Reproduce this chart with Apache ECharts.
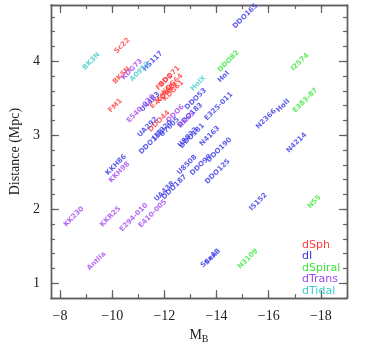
<!DOCTYPE html>
<html>
<head>
<meta charset="utf-8">
<script src="https://cdn.jsdelivr.net/npm/echarts@6/dist/echarts.min.js"></script>
<style>
  html, body { margin: 0; padding: 0; background: #fff; }
  #chart { width: 383px; height: 349px; }
</style>
</head>
<body>
<div id="chart"></div>
<script>
// Dwarf galaxies: absolute blue magnitude vs. distance, labelled by name and coloured by type
const typeNames = ['dSph', 'dI', 'dSpiral', 'dTrans', 'dTidal'];
const typeColors = ['#ff3a3a', '#3535e8', '#3be63b', '#a245f2', '#3ccccc'];

const dSphNames = ['Sc22', 'BK5N', 'FM1', 'DDO71', 'F8D1', 'KDG64', 'KDG63', 'KDG61', 'E269-66', 'DDO44'];
const dSphMB    = [-10.38, -10.36, -10.12, -12.19, -12.0, -12.31, -12.1, -12.34, -11.93, -11.8];
const dSphDist  = [4.21, 3.81, 3.40, 3.79, 3.72, 3.69, 3.57, 3.60, 3.53, 3.19];

const dINames = ['HS117', 'DDO165', 'HoI', 'DDO53', 'E325-011', 'N2366', 'HoII', 'N4214',
  'UA292', 'DDO113', 'U8320', 'U7605', 'DDO183', 'DDO181', 'U8833', 'N4163', 'DDO190',
  'U8508', 'DDO99', 'DDO125', 'DDO187', 'UA438', 'I5152', 'SexA', 'SexB', 'KKH86', 'U4483'];
const dIMB   = [-11.55, -15.1, -14.27, -13.2, -14.08, -15.9, -16.55, -17.07,
  -11.36, -11.51, -11.93, -12.2, -12.99, -13.06, -12.9, -13.74, -14.1,
  -12.87, -13.4, -14.04, -12.38, -12.0, -15.6, -13.7, -13.85, -10.15, -11.45];
const dIDist = [4.0, 4.61, 3.79, 3.49, 3.39, 3.22, 3.40, 2.90,
  3.11, 2.91, 3.07, 3.11, 3.27, 2.99, 2.97, 2.99, 2.80,
  2.60, 2.60, 2.51, 2.30, 2.24, 2.10, 1.32, 1.36, 2.60, 3.45];

const dSpiralNames = ['DDO82', 'I2574', 'E383-87', 'N3109', 'N55'];
const dSpiralMB    = [-14.46, -17.2, -17.4, -15.2, -17.75];
const dSpiralDist  = [4.0, 3.99, 3.47, 1.33, 2.10];

const dTransNames = ['KDG73', 'E540-030', 'DDO6', 'KK65', 'KKH98', 'KK230', 'KKR25', 'E294-010', 'E410-005', 'Antlia'];
const dTransMB    = [-10.76, -11.1, -12.42, -12.85, -10.27, -8.53, -9.93, -10.83, -11.55, -9.4];
const dTransDist  = [3.89, 3.36, 3.29, 3.21, 2.50, 1.90, 1.90, 1.89, 1.94, 1.30];

const dTidalNames = ['BK3N', 'A0952', 'HoIX'];
const dTidalMB    = [-9.2, -11.06, -13.3];
const dTidalDist  = [4.0, 3.86, 3.70];

// Axis ticks
const xMajorTicks = [-8, -10, -12, -14, -16, -18];
const xMinorTicks = [-8, -9, -10, -11, -12, -13, -14, -15, -16, -17, -18, -19];
const yMajorTicks = [1, 2, 3, 4];
const yMinorTicks = [0.8, 1.0, 1.2, 1.4, 1.6, 1.8, 2.0, 2.2, 2.4, 2.6, 2.8, 3.0, 3.2, 3.4, 3.6, 3.8, 4.0, 4.2, 4.4, 4.6];

const groups = [
  [dSphNames, dSphMB, dSphDist],
  [dINames, dIMB, dIDist],
  [dSpiralNames, dSpiralMB, dSpiralDist],
  [dTransNames, dTransMB, dTransDist],
  [dTidalNames, dTidalMB, dTidalDist]
];

const X_MIN = -19.0, X_MAX = -7.65, Y_MIN = 0.8, Y_MAX = 4.76;
const frameColor = '#606060';
const serif = '"Liberation Serif", "DejaVu Serif", serif';

function xAxisDef(position, ticks, len, withLabels) {
  return {
    type: 'value', position: position, inverse: true, min: X_MIN, max: X_MAX,
    axisLine: { show: true, onZero: false, lineStyle: { color: frameColor, width: 1.4 } },
    axisTick: { show: true, inside: true, length: len, customValues: ticks, lineStyle: { color: frameColor, width: 1.2 } },
    axisLabel: withLabels ? {
      show: true, customValues: xMajorTicks, margin: 11, color: '#222', fontFamily: serif, fontSize: 14,
      formatter: v => (v < 0 ? '\u2212' + Math.abs(v) : String(v))
    } : { show: false },
    splitLine: { show: false },
    name: withLabels ? 'M{s|B}' : '',
    nameLocation: 'middle', nameGap: 26,
    nameTextStyle: {
      color: '#222', fontFamily: serif, fontSize: 14,
      rich: { s: { fontFamily: serif, fontSize: 10, verticalAlign: 'bottom', padding: [8, 0, 0, 0], color: '#222' } }
    }
  };
}

function yAxisDef(position, ticks, len, withLabels) {
  return {
    type: 'value', position: position, min: Y_MIN, max: Y_MAX,
    axisLine: { show: true, onZero: false, lineStyle: { color: frameColor, width: 1.4 } },
    axisTick: { show: true, inside: true, length: len, customValues: ticks, lineStyle: { color: frameColor, width: 1.2 } },
    axisLabel: withLabels ? {
      show: true, customValues: yMajorTicks, margin: 11, color: '#222', fontFamily: serif, fontSize: 14
    } : { show: false },
    splitLine: { show: false },
    name: withLabels ? 'Distance (Mpc)' : '',
    nameLocation: 'middle', nameGap: 21, nameRotate: 90,
    nameTextStyle: { color: '#222', fontFamily: serif, fontSize: 14 }
  };
}

const series = groups.map((g, i) => ({
  name: typeNames[i],
  type: 'scatter',
  xAxisIndex: 0, yAxisIndex: 0,
  symbolSize: 0.01,
  itemStyle: { color: typeColors[i] },
  data: g[0].map((n, k) => ({ name: n, value: [g[1][k], g[2][k]] })),
  label: {
    show: true, position: 'inside', rotate: 45, formatter: '{b}',
    color: typeColors[i], fontFamily: '"DejaVu Sans", sans-serif', fontSize: 7, fontWeight: 'bold'
  },
  emphasis: { disabled: true },
  animation: false
}));

const chart = echarts.init(document.getElementById('chart'), null, { renderer: 'canvas' });
chart.setOption({
  backgroundColor: '#fff',
  animation: false,
  grid: { left: 46, top: 5, right: 36, bottom: 42, containLabel: false },
  xAxis: [
    xAxisDef('bottom', xMajorTicks, 8, true),
    xAxisDef('bottom', xMinorTicks, 4, false),
    xAxisDef('top', xMajorTicks, 8, false),
    xAxisDef('top', xMinorTicks, 4, false)
  ],
  yAxis: [
    yAxisDef('left', yMajorTicks, 8, true),
    yAxisDef('left', yMinorTicks, 4, false),
    yAxisDef('right', yMajorTicks, 8, false),
    yAxisDef('right', yMinorTicks, 4, false)
  ],
  legend: {
    orient: 'vertical', left: 292, top: 234, icon: 'none',
    itemWidth: 0, itemHeight: 0, itemGap: 0, selectedMode: false,
    textStyle: { fontFamily: '"DejaVu Sans", sans-serif', fontSize: 11, lineHeight: 11.5, padding: 0 },
    data: typeNames.map((t, i) => ({ name: t, textStyle: { color: typeColors[i] } }))
  },
  series: series
});
</script>
</body>
</html>
